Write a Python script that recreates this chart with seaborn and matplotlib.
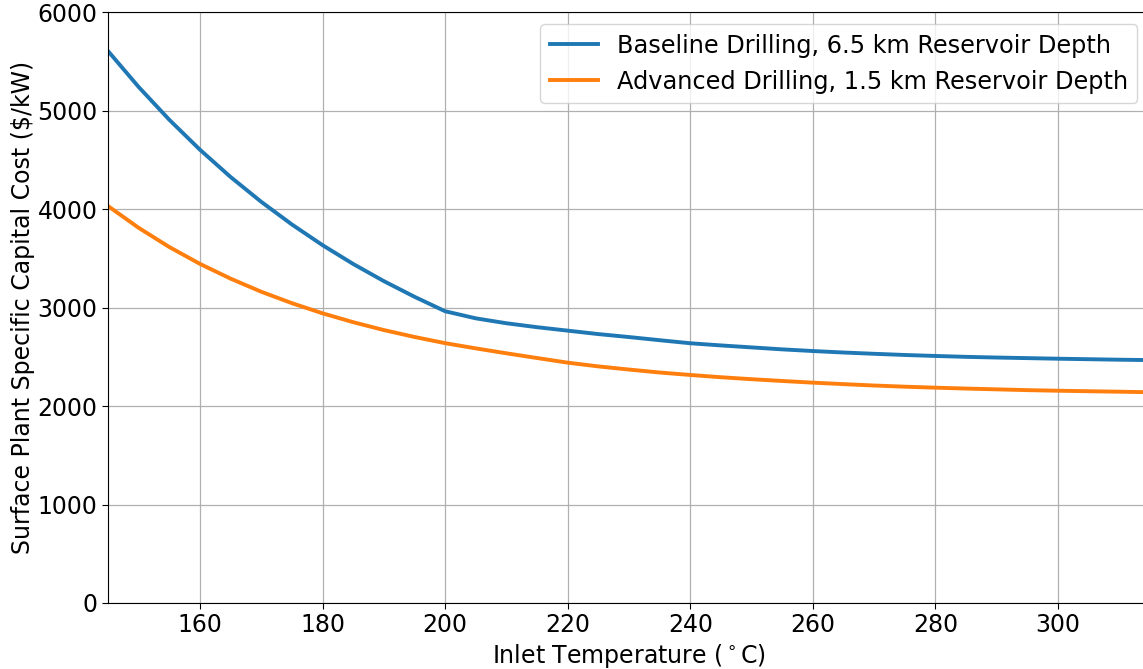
import numpy as np
import pandas as pd
import matplotlib
matplotlib.use("Agg")
import matplotlib.pyplot as plt
import seaborn as sns

# Inlet temperature grid (deg C)
temperature = [145, 150, 155, 160, 165, 170, 175, 180, 185, 190, 195, 200,
               205, 210, 215, 220, 225, 230, 235, 240, 245, 250, 255, 260,
               265, 270, 275, 280, 285, 290, 295, 300, 305, 310, 315]

# Surface plant specific capital cost ($/kW)
baseline_cost = [5604, 5239, 4906, 4602, 4325, 4073, 3843, 3633, 3442, 3268, 3109, 2962,
                 2890, 2840, 2800, 2765, 2730, 2700, 2668, 2637, 2615, 2595, 2575, 2558,
                 2543, 2530, 2518, 2508, 2499, 2492, 2486, 2480, 2475, 2470, 2466]
advanced_cost = [4030, 3809, 3614, 3443, 3293, 3160, 3044, 2941, 2851, 2771, 2701, 2638,
                 2585, 2535, 2487, 2440, 2402, 2370, 2340, 2315, 2292, 2272, 2254, 2237,
                 2222, 2208, 2196, 2186, 2177, 2169, 2161, 2155, 2150, 2145, 2140]

scenarios = ["Baseline Drilling, 6.5 km Reservoir Depth",
             "Advanced Drilling, 1.5 km Reservoir Depth"]

df = pd.DataFrame({
    "T": temperature * 2,
    "cost": baseline_cost + advanced_cost,
    "scenario": [scenarios[0]] * len(temperature) + [scenarios[1]] * len(temperature),
})

plt.rcParams["font.family"] = ["DejaVu Sans"]
fig = plt.figure(figsize=(11.43, 6.69), dpi=100)
W, H = 1143, 669
left, right, top, bottom = 108, 1150, 12, 603
ax = fig.add_axes([left / W, 1 - bottom / H, (right - left) / W, (bottom - top) / H])

sns.lineplot(data=df, x="T", y="cost", hue="scenario", hue_order=scenarios,
             palette=["#1f77b4", "#ff7f0e"], linewidth=2.8, ax=ax)

ax.set_xlim(145, 315)
ax.set_ylim(0, 6000)
ax.set_xticks([160, 180, 200, 220, 240, 260, 280, 300])
ax.set_yticks([0, 1000, 2000, 3000, 4000, 5000, 6000])
ax.grid(True, color="#b0b0b0", linewidth=0.9)
ax.set_axisbelow(True)
ax.tick_params(labelsize=17, length=4)
ax.set_xlabel(r"Inlet Temperature ($^\circ$C)", fontsize=17, labelpad=3)
ax.set_ylabel("Surface Plant Specific Capital Cost ($/kW)", fontsize=17, labelpad=2)

leg = ax.legend(loc="upper left", bbox_to_anchor=((540 - left) / (right - left), 1 - (24 - top) / (bottom - top)),
                fontsize=17.25, frameon=True, fancybox=True, borderaxespad=0)
for line in leg.get_lines():
    line.set_linewidth(2.8)

fig.savefig("out.png", dpi=100)
